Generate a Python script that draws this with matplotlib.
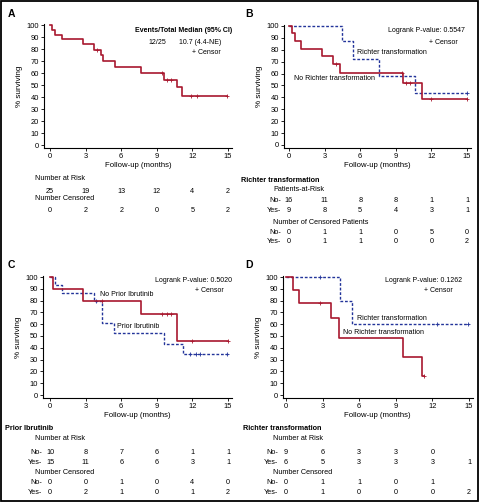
import matplotlib
matplotlib.use("Agg")
import matplotlib.pyplot as plt
from matplotlib.patches import Rectangle
from matplotlib.transforms import blended_transform_factory
import numpy as np

plt.rcParams['font.family'] = ['Liberation Sans', 'DejaVu Sans']

W, H = 480, 503
RED = "#A8182F"
BLUE = "#23349A"

xticks = [0, 3, 6, 9, 12, 15]
yticks = [0, 10, 20, 30, 40, 50, 60, 70, 80, 90, 100]

# --- A: all patients ---
a_t = [0, 0.2, 0.42, 1.0, 2.75, 3.73, 4.3, 4.45, 5.45, 7.64, 9.6, 10.67, 11.15, 14.95]
a_s = [100, 96, 92, 88, 84, 79.5, 75, 70, 65, 60, 54.5, 48, 41, 41]
a_cens = [4.0, 9.45, 9.9, 10.2, 11.9, 12.4, 14.9]
a_risk = [25, 19, 13, 12, 4, 2]
a_censored = [0, 2, 2, 0, 5, 2]

# --- B: Richter transformation ---
b_no_t = [0, 0.28, 0.5, 1.0, 2.75, 3.7, 4.3, 9.6, 11.2, 15.0]
b_no_s = [100, 94, 87.5, 81, 75, 68, 60.5, 52, 39, 39]
b_no_cens = [4.0, 9.5, 9.9, 10.2, 12.0, 15.0]
b_yes_t = [0, 4.44, 5.36, 7.6, 10.6, 15.0]
b_yes_s = [100, 87.5, 72.5, 58, 43.5, 43.5]
b_yes_cens = [15.0]
b_risk_no = [16, 11, 8, 8, 1, 1]
b_risk_yes = [9, 8, 5, 4, 3, 1]
b_cens_no = [0, 1, 1, 0, 5, 0]
b_cens_yes = [0, 1, 1, 0, 0, 2]

# --- C: prior ibrutinib ---
c_no_t = [0, 0.22, 2.8, 7.64, 10.73, 15.0]
c_no_s = [100, 90, 80, 68.5, 45.5, 45.5]
c_no_cens = [4.4, 9.45, 9.9, 10.2, 12.0, 15.0]
c_yes_t = [0, 0.42, 0.99, 3.73, 4.35, 5.4, 9.6, 11.2, 15.0]
c_yes_s = [100, 93, 86.7, 79.5, 61, 52.5, 43.5, 35, 35]
c_yes_cens = [3.9, 11.8, 12.3, 12.6, 14.9]
c_risk_no = [10, 8, 7, 6, 1, 1]
c_risk_yes = [15, 11, 6, 6, 3, 1]
c_cens_no = [0, 0, 1, 0, 4, 0]
c_cens_yes = [0, 2, 1, 0, 1, 2]

# --- D: Richter transformation (subgroup) ---
d_no_t = [0, 0.55, 1.07, 3.7, 4.32, 9.63, 11.14, 11.3]
d_no_s = [100, 89, 78, 65, 48.5, 32.5, 16, 16]
d_no_cens = [2.8, 11.3]
d_yes_t = [0, 4.43, 5.39, 15.0]
d_yes_s = [100, 80, 60, 60]
d_yes_cens = [2.8, 12.4, 14.9]
d_risk_no = [9, 6, 3, 3, 0, None]
d_risk_yes = [6, 5, 3, 3, 3, 1]
d_cens_no = [0, 1, 1, 0, 1, None]
d_cens_yes = [0, 1, 0, 0, 0, 2]

fig = plt.figure(figsize=(W / 100, H / 100), dpi=100)

TAB = 5.2   # risk table text
LEG = 5.0   # in-plot annotations


def make_axes(x0, x15, y0, y100, xmin, xmax=15.3, ymin=-2.5, ymax=101):
    sx = (x15 - x0) / 15.0
    sy = (y0 - y100) / 100.0
    left = x0 + xmin * sx
    right = x0 + xmax * sx
    top = y0 - ymax * sy
    bottom = y0 - ymin * sy
    ax = fig.add_axes([left / W, 1 - bottom / H, (right - left) / W, (bottom - top) / H])
    ax.set_xlim(xmin, xmax)
    ax.set_ylim(ymin, ymax)
    for s in ["top", "right"]:
        ax.spines[s].set_visible(False)
    for s in ["left", "bottom"]:
        ax.spines[s].set_linewidth(0.8)
    ax.set_xticks(xticks)
    ax.set_yticks(yticks)
    ax.tick_params(direction="out", length=2, width=0.6, labelsize=5.4, pad=1.5)
    ax.set_xlabel("Follow-up (months)", fontsize=5.6, labelpad=1.5)
    ax.set_ylabel("% surviving", fontsize=5.9, labelpad=2.5)
    ax.patch.set_alpha(0)
    return ax


def km(ax, t, s, cens, color, dashed=False):
    ls = (0, (2, 1.3)) if dashed else "-"
    lw = 1.0 if dashed else 1.2
    ax.step(t, s, where="post", color=color, lw=lw, ls=ls, clip_on=False)
    idx = np.searchsorted(t, cens, side="right") - 1
    lev = np.array(s)[idx]
    ax.plot(cens, lev, ls="none", marker="+", ms=3, mew=0.6, color=color, clip_on=False)


def row_text(ax, y_px, values, label=None, size=TAB):
    tr = blended_transform_factory(ax.transData, fig.transFigure)
    for x, v in zip(xticks, values):
        if v is None:
            continue
        ax.text(x, 1 - y_px / H, str(v), transform=tr, ha="center", va="center", fontsize=size)
    if label:
        x0px = ax.transData.transform((0, 0))[0]
        fig.text((x0px - 8) / W, 1 - y_px / H, label, ha="right", va="center", fontsize=size)


def ftext(x_px, y_px, s, **kw):
    kw.setdefault("fontsize", TAB)
    kw.setdefault("va", "center")
    fig.text(x_px / W, 1 - y_px / H, s, **kw)


# Panel A
axA = make_axes(50, 228, 145, 25, -0.5)
km(axA, a_t, a_s, a_cens, RED)
ftext(8, 14, "A", fontsize=7.5, weight="bold")
ftext(232, 31, "Events/Total Median (95% CI)", ha="right", weight="bold", fontsize=LEG)
ftext(157, 42, "12/25", ha="center", fontsize=LEG)
ftext(200, 42, "10.7 (4.4-NE)", ha="center", fontsize=LEG)
ftext(206, 52, "+ Censor", ha="center", fontsize=LEG)
ftext(35, 179, "Number at Risk")
row_text(axA, 191, a_risk)
ftext(35, 199, "Number Censored")
row_text(axA, 211, a_censored)

# Panel B
axB = make_axes(289, 467, 145, 26, -0.42)
km(axB, b_yes_t, b_yes_s, b_yes_cens, BLUE, dashed=True)
km(axB, b_no_t, b_no_s, b_no_cens, RED)
ftext(245, 14, "B", fontsize=7.5, weight="bold")
ftext(465, 31, "Logrank P-value: 0.5547", ha="right", fontsize=LEG)
ftext(458, 42, "+ Censor", ha="right", fontsize=LEG)
ftext(357, 53, "Richter transformation", fontsize=LEG)
ftext(294, 78, "No Richter transformation", fontsize=LEG)
ftext(241, 180, "Richter transformation", weight="bold")
ftext(273, 190, "Patients-at-Risk")
row_text(axB, 200, b_risk_no, "No-")
row_text(axB, 211, b_risk_yes, "Yes-")
ftext(273, 222, "Number of Censored Patients")
row_text(axB, 232, b_cens_no, "No-")
row_text(axB, 242, b_cens_yes, "Yes-")

# Panel C
axC = make_axes(50, 228, 395, 277, -0.59)
km(axC, c_yes_t, c_yes_s, c_yes_cens, BLUE, dashed=True)
km(axC, c_no_t, c_no_s, c_no_cens, RED)
ftext(8, 265, "C", fontsize=7.5, weight="bold")
ftext(232, 280, "Logrank P-value: 0.5020", ha="right", fontsize=LEG)
ftext(224, 291, "+ Censor", ha="right", fontsize=LEG)
ftext(100, 295, "No Prior Ibrutinib", fontsize=LEG)
ftext(117, 327, "Prior Ibrutinib", fontsize=LEG)
ftext(5, 428, "Prior Ibrutinib", weight="bold")
ftext(35, 439, "Number at Risk")
row_text(axC, 452, c_risk_no, "No-")
row_text(axC, 463, c_risk_yes, "Yes-")
ftext(35, 473, "Number Censored")
row_text(axC, 483, c_cens_no, "No-")
row_text(axC, 492, c_cens_yes, "Yes-")

# Panel D
axD = make_axes(286, 469, 395, 277, -0.25)
km(axD, d_yes_t, d_yes_s, d_yes_cens, BLUE, dashed=True)
km(axD, d_no_t, d_no_s, d_no_cens, RED)
ftext(245, 265, "D", fontsize=7.5, weight="bold")
ftext(462, 280, "Logrank P-value: 0.1262", ha="right", fontsize=LEG)
ftext(453, 291, "+ Censor", ha="right", fontsize=LEG)
ftext(357, 318, "Richter transformation", fontsize=LEG)
ftext(343, 333, "No Richter transformation", fontsize=LEG)
ftext(243, 428, "Richter transformation", weight="bold")
ftext(273, 439, "Number at Risk")
row_text(axD, 452, d_risk_no, "No-")
row_text(axD, 463, d_risk_yes, "Yes-")
ftext(273, 473, "Number Censored")
row_text(axD, 483, d_cens_no, "No-")
row_text(axD, 492, d_cens_yes, "Yes-")

# outer frame
fig.add_artist(Rectangle((0.5 / W, 2.5 / H), 477.5 / W, 499.5 / H, transform=fig.transFigure,
                         fill=False, ec="black", lw=1.3))

fig.savefig("out.png", dpi=100)
